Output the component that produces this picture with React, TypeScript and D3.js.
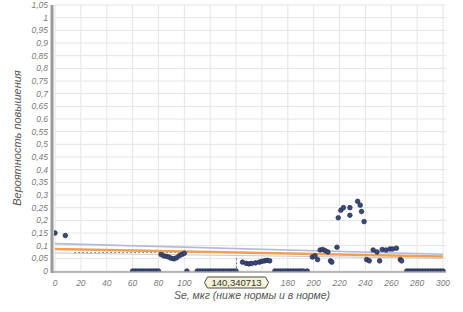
import React from "react";
import * as d3 from "d3";

const yTicks = [0, 0.05, 0.1, 0.15, 0.2, 0.25, 0.3, 0.35, 0.4, 0.45, 0.5, 0.55, 0.6, 0.65, 0.7, 0.75, 0.8, 0.85, 0.9, 0.95, 1, 1.05];
const xTicks = [0, 20, 40, 60, 80, 100, 120, 140, 160, 180, 200, 220, 240, 260, 280, 300];
const hiddenXTicks = [120, 140, 160];

const pointX = [
  0, 8,
  60, 62, 64, 66, 68, 70, 72, 74, 76, 78, 80,
  82, 84, 86, 88, 90, 92, 94, 96, 98, 100,
  102, 110, 112, 114, 116, 118, 120, 122, 124, 126, 128, 130, 132, 134, 136, 138, 140,
  145, 148, 150, 152, 155, 158, 160, 162, 164, 166,
  170, 172, 174, 176, 178, 180, 182, 184, 186, 188, 190, 192, 195,
  199, 201, 203, 205, 207, 209, 211, 213, 214, 218,
  219, 221, 223, 228, 228, 234, 236, 237, 239,
  241, 243, 246, 249, 251, 253, 256, 259, 261, 264, 267, 268,
  272, 274, 276, 278, 280, 282, 284, 286, 288, 290, 292, 294, 296, 298, 300,
];
const pointY = [
  0.15, 0.14,
  0, 0, 0, 0, 0, 0, 0, 0, 0, 0, 0,
  0.065, 0.06, 0.058, 0.055, 0.05, 0.048, 0.052, 0.06, 0.065, 0.07,
  0, 0, 0, 0, 0, 0, 0, 0, 0, 0, 0, 0, 0, 0, 0, 0, 0,
  0.035, 0.03, 0.028, 0.03, 0.032, 0.035, 0.038, 0.04, 0.042, 0.04,
  0, 0, 0, 0, 0, 0, 0, 0, 0, 0, 0, 0, 0,
  0.055, 0.06, 0.045, 0.083, 0.085, 0.08, 0.075, 0.04, 0.035, 0.094,
  0.21, 0.24, 0.25, 0.25, 0.22, 0.275, 0.26, 0.235, 0.195,
  0.045, 0.04, 0.083, 0.075, 0.04, 0.085, 0.083, 0.087, 0.087, 0.09, 0.045, 0.04,
  0, 0, 0, 0, 0, 0, 0, 0, 0, 0, 0, 0, 0, 0, 0,
];

const fitX = [0, 300];
const fitY = [0.087, 0.057];
const upperY = [0.108, 0.066];
const lowerY = [0.071, 0.05];
const dottedX = [15, 150];
const dottedY = [0.073, 0.073];

const markerValue = "140,340713";
const markerX = 140.340713;
const xTitle = "Se, мкг (ниже нормы и в норме)";
const yTitle = "Вероятность повышения";

const W = 463;
const H = 312;
const left = 55;
const right = 443;
const top = 5;
const bottom = 271;

export default function App() {
  const x = d3.scaleLinear().domain([0, 300]).range([left, right]);
  const y = d3.scaleLinear().domain([0, 1.05]).range([bottom, top]);
  const line = d3
    .line<[number, number]>()
    .x((d) => x(d[0]))
    .y((d) => y(d[1]));
  const font = "'Liberation Sans', Arial, sans-serif";
  const mx = x(markerX);
  return (
    <svg width={W} height={H} style={{ position: "absolute", left: 0, top: 0, background: "#fff" }}>
      <defs>
        <clipPath id="plotClip">
          <rect x={left - 1} y={top - 3} width={right - left + 6} height={bottom - top + 4} />
        </clipPath>
      </defs>
      <rect x={0} y={0} width={W} height={H} fill="#fff" />
      {yTicks.map((t) => (
        <line key={"gy" + t} x1={left} x2={right + 3} y1={y(t)} y2={y(t)} stroke="#e4e4e4" strokeWidth={1} />
      ))}
      {xTicks.map((t) => (
        <line key={"gx" + t} x1={x(t)} x2={x(t)} y1={top} y2={bottom} stroke="#e4e4e4" strokeWidth={1} />
      ))}
      {yTicks.map((t) => (
        <text key={"ty" + t} x={left - 7} y={y(t) + 3} textAnchor="end" fontSize={8.5} fontStyle="italic" fill="#7a7a7a" fontFamily={font}>
          {String(t).replace(".", ",")}
        </text>
      ))}
      {xTicks
        .filter((t) => !hiddenXTicks.includes(t))
        .map((t) => (
          <text key={"tx" + t} x={x(t)} y={bottom + 15} textAnchor="middle" fontSize={8.5} fontStyle="italic" fill="#7a7a7a" fontFamily={font}>
            {t}
          </text>
        ))}
      <g clipPath="url(#plotClip)">
        <path d={line([[fitX[0], upperY[0]], [fitX[1], upperY[1]]]) || ""} stroke="#b4b8dc" strokeWidth={1.6} fill="none" />
        <path d={line([[fitX[0], lowerY[0]], [fitX[1], lowerY[1]]]) || ""} stroke="#c8c8c8" strokeWidth={1} fill="none" />
        <path d={line([[dottedX[0], dottedY[0]], [dottedX[1], dottedY[1]]]) || ""} stroke="#707070" strokeWidth={1.2} strokeDasharray="1.5,2.5" fill="none" />
        <path d={line([[fitX[0], fitY[0]], [fitX[1], fitY[1]]]) || ""} stroke="#f0a050" strokeWidth={2.6} fill="none" />
        {pointX.map((px, i) => (
          <circle key={"p" + i} cx={x(px)} cy={y(pointY[i])} r={2.3} fill="#3b4a78" stroke="#1f2a4a" strokeWidth={0.7} />
        ))}
      </g>
      <line x1={left - 2} x2={right + 3} y1={bottom + 1} y2={bottom + 1} stroke="#a0a0a0" strokeWidth={1.5} />
      <line x1={left - 3} x2={left - 3} y1={top} y2={bottom + 2} stroke="#9a9a9a" strokeWidth={3} />
      <line x1={mx} x2={mx} y1={y(0.05)} y2={bottom} stroke="#555" strokeWidth={0.8} strokeDasharray="2,2" />
      <path
        d={`M${mx - 29},${bottom + 6} L${mx + 29},${bottom + 6} L${mx + 32},${bottom + 11.5} L${mx + 29},${bottom + 17} L${mx - 29},${bottom + 17} L${mx - 32},${bottom + 11.5} Z`}
        fill="#f6f4d6"
        stroke="#4a4a4a"
        strokeWidth={1}
      />
      <text x={mx} y={bottom + 14.8} textAnchor="middle" fontSize={9.5} fill="#333" fontFamily={font}>
        {markerValue}
      </text>
      <text x={252} y={bottom + 28} textAnchor="middle" fontSize={10.5} fontStyle="italic" fill="#555" fontFamily={font}>
        {xTitle}
      </text>
      <text transform={`translate(21,${138}) rotate(-90)`} textAnchor="middle" fontSize={11} fontStyle="italic" fill="#555" fontFamily={font}>
        {yTitle}
      </text>
    </svg>
  );
}
